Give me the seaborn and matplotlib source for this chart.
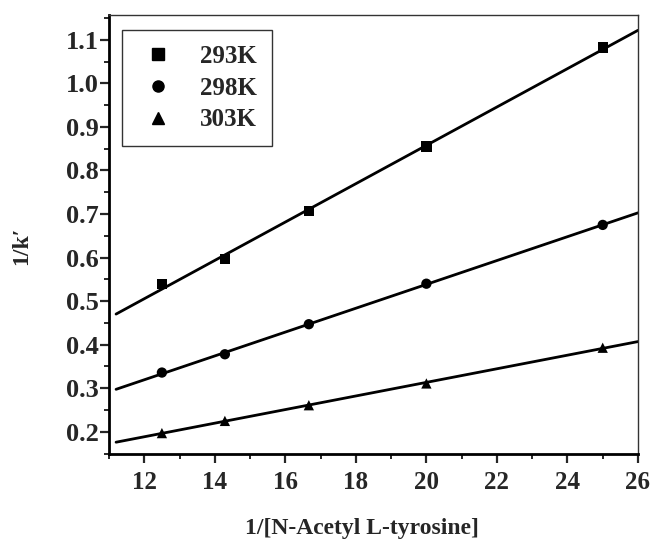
import numpy as np
import pandas as pd
import seaborn as sns
import matplotlib
matplotlib.use("Agg")
import matplotlib.pyplot as plt
from matplotlib.lines import Line2D
from matplotlib.ticker import MultipleLocator, FormatStrFormatter

# Reciprocal concentration of N-acetyl L-tyrosine
inv_conc = [12.5, 14.286, 16.667, 20.0, 25.0]

# 1/k' at each temperature
inv_k_293 = [0.539, 0.597, 0.707, 0.855, 1.082]
inv_k_298 = [0.336, 0.378, 0.447, 0.540, 0.675]
inv_k_303 = [0.197, 0.225, 0.261, 0.311, 0.393]

temperatures = ["293K", "298K", "303K"]
series = [inv_k_293, inv_k_298, inv_k_303]
markers = {"293K": "s", "298K": "o", "303K": "^"}

df = pd.DataFrame({
    "x": np.tile(inv_conc, len(temperatures)),
    "y": np.concatenate(series),
    "T": np.repeat(temperatures, len(inv_conc)),
})

# Least-squares lines over the plotted x range
x_fit = np.linspace(11.2, 26.0, 50)
fit_rows = []
for t, ys in zip(temperatures, series):
    m, b = np.polyfit(inv_conc, ys, 1)
    fit_rows.append(pd.DataFrame({"x": x_fit, "y": m * x_fit + b, "T": t}))
fit_df = pd.concat(fit_rows, ignore_index=True)

sns.set_style("ticks")
plt.rcParams["font.family"] = ["Liberation Serif", "DejaVu Serif"]
plt.rcParams["font.weight"] = "bold"

fig = plt.figure(figsize=(6.5, 5.39), dpi=100)
ax = fig.add_axes([0.1677, 0.1577, 0.8138, 0.8145])

sns.lineplot(data=fit_df, x="x", y="y", units="T", estimator=None,
             color="black", linewidth=2.0, ax=ax, legend=False)
sns.scatterplot(data=df, x="x", y="y", style="T", markers=markers,
                color="black", s=55, edgecolor="black", linewidth=0,
                ax=ax, legend=False)

ax.set_xlim(11.0, 26.0)
ax.set_ylim(0.149, 1.157)
ax.xaxis.set_major_locator(MultipleLocator(2))
ax.xaxis.set_minor_locator(MultipleLocator(1))
ax.yaxis.set_major_locator(MultipleLocator(0.1))
ax.yaxis.set_minor_locator(MultipleLocator(0.05))
ax.yaxis.set_major_formatter(FormatStrFormatter("%.1f"))

ax.tick_params(axis="both", which="major", direction="out", length=6.5,
               width=1.6, labelsize=18)
ax.tick_params(axis="y", which="major", labelsize=19, pad=1)
ax.tick_params(axis="x", which="major", pad=6)
ax.tick_params(axis="both", which="minor", direction="out", length=3.5,
               width=1.4)
for lab in ax.get_xticklabels() + ax.get_yticklabels():
    lab.set_fontweight("bold")

for side in ["left", "bottom"]:
    ax.spines[side].set_linewidth(2.0)
    ax.spines[side].set_color("black")
for side in ["top", "right"]:
    ax.spines[side].set_visible(True)
    ax.spines[side].set_linewidth(1.0)
    ax.spines[side].set_color("#333333")

ax.set_xlabel("1/[N-Acetyl L-tyrosine]", fontsize=17, fontweight="bold")
ax.set_ylabel("1/k\u2032", fontsize=17, fontweight="bold")
ax.xaxis.set_label_coords(0.478, -0.146)
ax.yaxis.set_label_coords(-0.146, 0.474)

handles = [Line2D([], [], marker=markers[t], color="black", linestyle="none",
                  markersize=8) for t in temperatures]
leg = ax.legend(handles, temperatures, loc="upper left",
                bbox_to_anchor=(0.025, 0.966), frameon=True, fancybox=False,
                edgecolor="black", prop={"size": 18, "weight": "bold"},
                handletextpad=0.84, labelspacing=0.35, borderpad=0.6,
                handlelength=1.68, borderaxespad=0.0)
leg.get_frame().set_linewidth(1.0)

fig.savefig("out.png", dpi=100)
